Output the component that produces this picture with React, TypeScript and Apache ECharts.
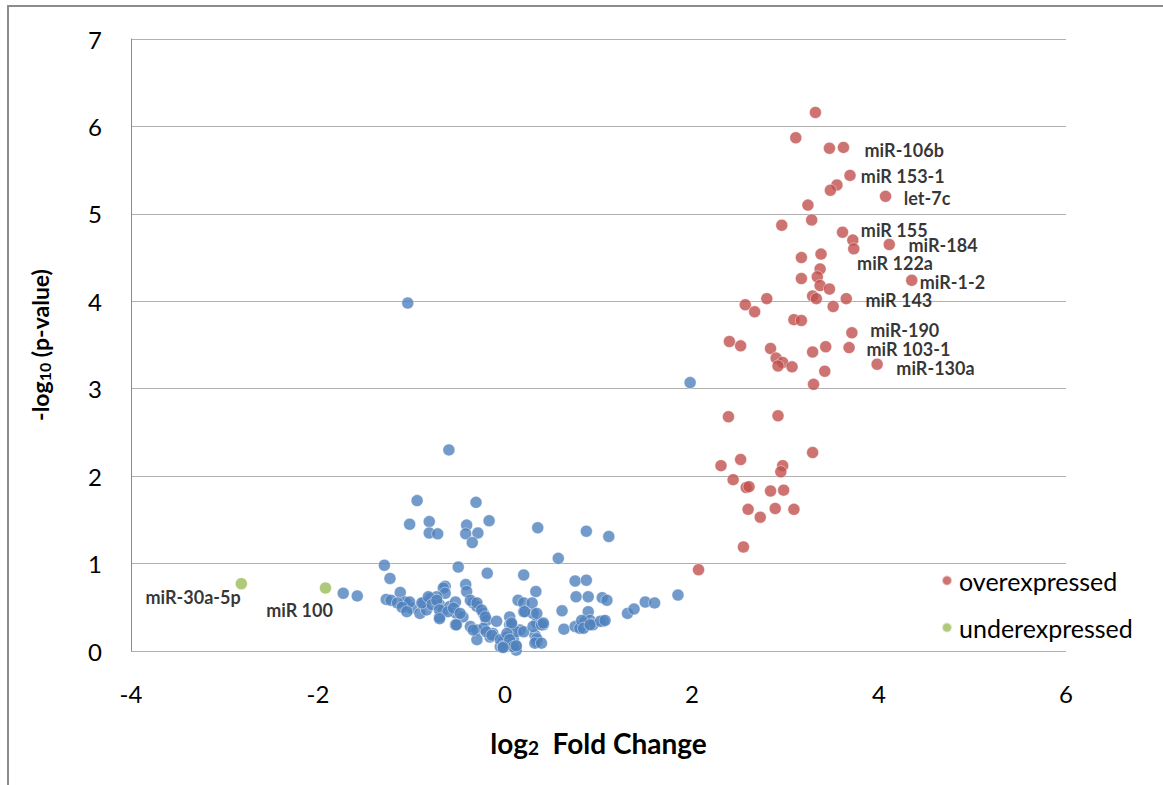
import React, { useEffect, useRef } from "react";
import * as echarts from "echarts";

const xTicks = [-4, -2, 0, 2, 4, 6];
const yTicks = [0, 1, 2, 3, 4, 5, 6, 7];

const seriesNames = ["overexpressed", "underexpressed"];

const neutralPoints: [number, number][] = [
  [-1.04, 3.98], [1.98, 3.07], [-0.6, 2.3], [-0.94, 1.72], [-0.31, 1.7], [-1.02, 1.45], [-0.81, 1.48],
  [-0.81, 1.35], [-0.72, 1.34], [-0.41, 1.44], [-0.42, 1.34], [-0.29, 1.35], [-0.35, 1.24], [-0.17, 1.49],
  [0.35, 1.41], [0.87, 1.37], [1.11, 1.31], [0.57, 1.06],
  [-1.29, 0.98], [-0.5, 0.96], [-1.23, 0.83], [-0.19, 0.89], [0.2, 0.87], [0.75, 0.8], [0.87, 0.81],
  [0.33, 0.68], [-1.73, 0.66], [-1.58, 0.63], [-1.12, 0.67], [-1.27, 0.59], [-1.22, 0.58], [-0.64, 0.74],
  [-0.42, 0.76], [-0.41, 0.68], [-0.66, 0.72], [-0.64, 0.66], [0.76, 0.62], [0.89, 0.62], [1.04, 0.61],
  [1.09, 0.58], [1.85, 0.64], [1.5, 0.56], [1.6, 0.55], [1.31, 0.43], [1.38, 0.48],
  [-1.05, 0.55], [-1.0, 0.49], [-0.91, 0.43], [-0.87, 0.55], [-0.8, 0.6], [-0.73, 0.62], [-0.7, 0.53],
  [-0.66, 0.47], [-0.59, 0.51], [-0.53, 0.56], [-0.52, 0.43], [-0.45, 0.39], [-0.34, 0.55], [-0.3, 0.51],
  [-0.23, 0.43], [-0.2, 0.35], [-0.37, 0.28], [-0.3, 0.24], [-0.23, 0.26], [-0.13, 0.2], [-0.09, 0.34],
  [0.02, 0.16], [0.05, 0.39], [0.05, 0.3], [-0.02, 0.11], [-0.05, 0.05], [0.02, 0.09], [0.09, 0.13],
  [0.12, 0.05], [0.16, 0.24], [0.2, 0.45], [0.3, 0.43], [0.34, 0.32], [0.41, 0.3], [0.32, 0.18],
  [0.34, 0.11], [0.61, 0.46], [0.63, 0.25], [0.75, 0.28], [0.8, 0.26], [0.86, 0.34], [0.89, 0.45],
  [0.91, 0.35], [0.94, 0.3], [1.05, 0.34], [-0.3, 0.13], [-0.16, 0.16], [-0.53, 0.3], [-0.7, 0.39],
  [-0.84, 0.47], [-1.07, 0.56],
  [-1.02, 0.56], [-0.89, 0.55], [-0.82, 0.62], [-0.78, 0.53], [-0.73, 0.58], [-0.7, 0.47], [-0.61, 0.45],
  [-0.55, 0.49], [-0.48, 0.43], [-0.52, 0.3], [-0.37, 0.58], [-0.3, 0.55], [-0.25, 0.47], [-0.21, 0.39],
  [-0.2, 0.22], [-0.14, 0.18], [-0.05, 0.13], [-0.02, 0.05], [0.07, 0.3], [0.12, 0.22], [0.14, 0.58],
  [0.12, 0.01], [-0.34, 0.24], [-0.7, 0.37],
  [0.82, 0.35], [1.02, 0.34], [1.07, 0.35], [0.84, 0.26], [0.91, 0.3], [0.2, 0.55], [0.29, 0.55],
  [0.21, 0.45], [0.34, 0.43], [0.07, 0.32], [0.02, 0.2], [0.2, 0.22], [0.3, 0.28], [0.39, 0.3],
  [0.34, 0.14], [0.32, 0.09], [0.05, 0.13], [0.09, 0.05], [-0.02, 0.04], [0.12, 0.06], [0.39, 0.09],
  [0.41, 0.32], [-1.15, 0.55], [-1.1, 0.5], [-1.05, 0.45],
];

const overPoints: [number, number][] = [
  [3.32, 6.16], [3.11, 5.87], [3.47, 5.75], [3.62, 5.76], [3.69, 5.44], [3.55, 5.33], [3.48, 5.27],
  [4.07, 5.2], [3.24, 5.1], [2.96, 4.87], [3.28, 4.93], [3.61, 4.79], [3.72, 4.7], [3.73, 4.6],
  [4.11, 4.65], [3.17, 4.5], [3.38, 4.54], [3.37, 4.37], [3.17, 4.26], [3.34, 4.28], [4.35, 4.24],
  [3.37, 4.18], [3.47, 4.14], [2.8, 4.03], [3.29, 4.06], [3.33, 4.03], [3.65, 4.03], [2.57, 3.96],
  [2.67, 3.88], [3.51, 3.94], [3.09, 3.79], [3.17, 3.78], [3.71, 3.64], [2.4, 3.54], [2.52, 3.49],
  [2.84, 3.46], [3.43, 3.48], [3.68, 3.47], [3.29, 3.42], [2.9, 3.35], [2.97, 3.3], [2.92, 3.26],
  [3.07, 3.25], [3.98, 3.28], [3.42, 3.2], [3.3, 3.05], [2.39, 2.68], [2.92, 2.69], [3.29, 2.27],
  [2.31, 2.12], [2.52, 2.19], [2.97, 2.12], [2.95, 2.05], [2.44, 1.96], [2.58, 1.87], [2.61, 1.88],
  [2.84, 1.83], [2.98, 1.84], [2.6, 1.62], [2.73, 1.53], [2.89, 1.63], [3.09, 1.62], [2.55, 1.19],
  [2.07, 0.93],
];

const underPoints: [number, number][] = [
  [-2.82, 0.77], [-1.92, 0.72],
];

const labelNames = [
  "miR-106b", "miR 153-1", "let-7c", "miR 155", "miR-184", "miR 122a", "miR-1-2", "miR 143",
  "miR-190", "miR 103-1", "miR-130a", "miR-30a-5p", "miR 100",
];
const labelX = [3.84, 3.8, 4.26, 3.8, 4.31, 3.76, 4.43, 3.85, 3.9, 3.86, 4.18, -3.85, -2.56];
const labelY = [5.73, 5.43, 5.18, 4.81, 4.64, 4.44, 4.22, 4.02, 3.67, 3.45, 3.24, 0.62, 0.47];

const FONT = "Lato, 'Open Sans', sans-serif";

export default function App() {
  const ref = useRef<HTMLDivElement>(null);
  useEffect(() => {
    if (!ref.current) return;
    const chart = echarts.init(ref.current, undefined, { renderer: "svg" });
    const markerBorder = { borderColor: "rgba(255,255,255,0.7)", borderWidth: 0.8 };
    chart.setOption({
      animation: false,
      backgroundColor: "#ffffff",
      textStyle: { fontFamily: FONT },
      grid: { left: 131, right: 97, top: 39, bottom: 134, containLabel: false },
      graphic: [
        {
          type: "rect",
          shape: { x: 8, y: 6, width: 1170, height: 800 },
          style: { fill: "none", stroke: "#8c8c8c", lineWidth: 2 },
          silent: true,
        },
        {
          type: "text",
          x: 40,
          y: 345,
          rotation: Math.PI / 2,
          silent: true,
          style: {
            text: "{b|-log}{s|10}{b| (p-value)}",
            align: "center",
            verticalAlign: "middle",
            rich: {
              b: { fontSize: 23, fontWeight: "bold", fill: "#000", fontFamily: FONT },
              s: { fontSize: 16, fontWeight: "bold", fill: "#000", fontFamily: FONT, padding: [8, 0, 0, 0] },
            },
          },
        },
      ],
      legend: {
        data: seriesNames,
        orient: "vertical",
        left: 936,
        top: 563,
        itemGap: 22,
        itemWidth: 10,
        itemHeight: 10,
        icon: "circle",
        textStyle: { fontSize: 25, color: "#000", fontFamily: FONT, padding: [0, 0, 0, 2] },
      },
      xAxis: {
        type: "value",
        min: xTicks[0],
        max: xTicks[xTicks.length - 1],
        interval: 2,
        axisLine: { show: false },
        axisTick: { show: false },
        splitLine: { show: false },
        axisLabel: { fontSize: 24, color: "#000", margin: 30, fontFamily: FONT },
        name: "{b|log}{s|2}{b|  Fold Change}",
        nameLocation: "middle",
        nameGap: 77,
        nameTextStyle: {
          rich: {
            b: { fontSize: 28, fontWeight: "bold", color: "#000", fontFamily: FONT },
            s: { fontSize: 19, fontWeight: "bold", color: "#000", fontFamily: FONT, padding: [10, 0, 0, 0] },
          },
        },
      },
      yAxis: {
        type: "value",
        min: yTicks[0],
        max: yTicks[yTicks.length - 1],
        interval: 1,
        axisLine: { show: true, onZero: false, lineStyle: { color: "#8c8c8c", width: 1 } },
        axisTick: { show: false },
        splitLine: { show: true, lineStyle: { color: "#b0b0b0", width: 1.2 } },
        axisLabel: { fontSize: 24, color: "#000", margin: 29, fontFamily: FONT },
      },
      series: [
        {
          name: "neutral",
          type: "scatter",
          data: neutralPoints,
          symbolSize: 12,
          itemStyle: { color: "#4F81BD", ...markerBorder },
          z: 2,
        },
        {
          name: seriesNames[0],
          type: "scatter",
          data: overPoints,
          symbolSize: 12,
          itemStyle: { color: "#C0504D", ...markerBorder },
          z: 3,
        },
        {
          name: seriesNames[1],
          type: "scatter",
          data: underPoints,
          symbolSize: 12,
          itemStyle: { color: "#9BBB59", ...markerBorder },
          z: 3,
        },
        {
          name: "labels",
          type: "scatter",
          silent: true,
          symbolSize: 1,
          itemStyle: { color: "rgba(0,0,0,0)" },
          data: labelNames.map((n, i) => ({ name: n, value: [labelX[i], labelY[i]] })),
          label: {
            show: true,
            position: "right",
            distance: 0,
            formatter: (p: any) => p.name,
            fontSize: 18,
            lineHeight: 14,
            fontWeight: "bold",
            color: "#000",
            fontFamily: FONT,
          },
          z: 4,
        },
      ],
    });
    return () => chart.dispose();
  }, []);
  return (
    <div
      ref={ref}
      style={{ position: "fixed", left: 0, top: 0, width: 1163, height: 785 }}
    />
  );
}
